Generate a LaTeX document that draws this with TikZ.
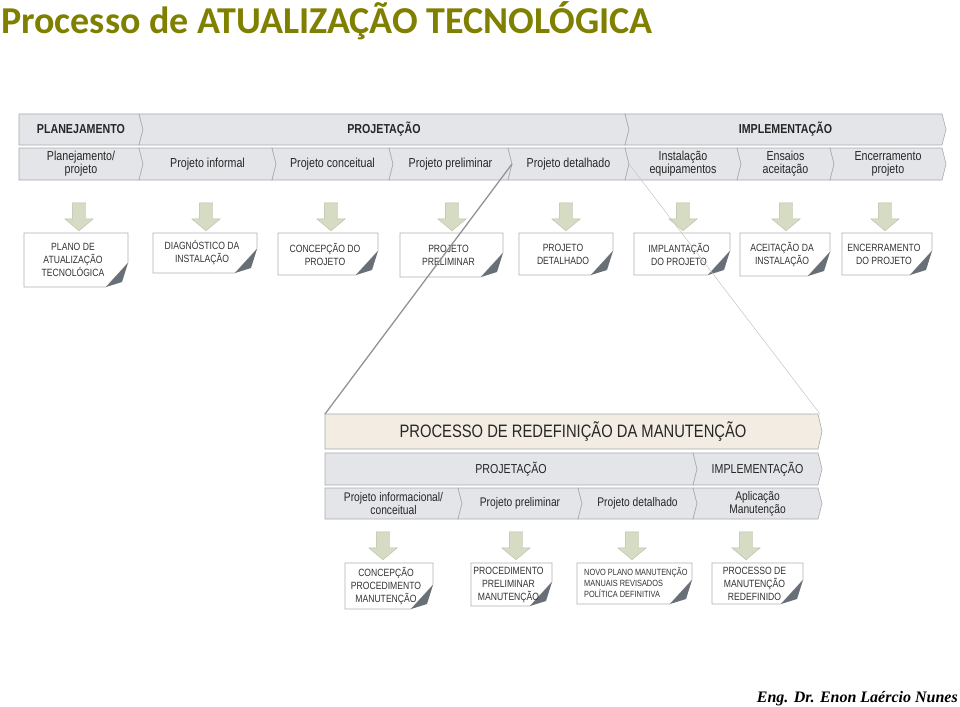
\documentclass[tikz,border=0pt]{standalone}
\usepackage{fontspec}
\setmainfont{Liberation Sans}
\newfontfamily\narrow[FakeStretch=0.82]{Liberation Sans}
\newfontfamily\titlefont{Carlito}
\newfontfamily\signfont{Liberation Serif}
\usetikzlibrary{shapes.arrows}

\definecolor{olivetitle}{RGB}{128,128,0}
\definecolor{chevfill}{RGB}{227,229,233}
\definecolor{chevline}{RGB}{168,170,174}
\definecolor{arrowfill}{RGB}{214,219,196}
\definecolor{arrowline}{RGB}{186,192,166}
\definecolor{boxline}{RGB}{176,176,176}
\definecolor{foldfill}{RGB}{104,111,119}
\definecolor{bannerfill}{RGB}{242,236,226}

\tikzset{
	chev/.style = {draw=chevline, fill=chevfill, line width=0.6pt},
	chevtext/.style = {font=\narrow\fontsize{13}{13}\selectfont, align=center, text=black!85, inner sep=0},
	phasetext/.style = {chevtext, font=\narrow\bfseries\fontsize{13}{14}\selectfont},
	bannertext/.style = {chevtext, font=\narrow\fontsize{18}{20}\selectfont},
	note/.style = {draw=boxline, fill=white, line width=0.6pt},
	notetext/.style = {font=\narrow\fontsize{10.5}{13}\selectfont, align=center, text=black!80, inner sep=0},
	downarrow/.style = {
		draw=arrowline, fill=arrowfill, single arrow, rotate=-90,
		minimum height=28pt, inner xsep=0pt, inner ysep=6.5pt,
		single arrow head extend=7.5pt, single arrow tip angle=100,
	},
}

\begin{document}
\begin{tikzpicture}[x=1pt, y=1pt]
	\useasboundingbox (0,0) rectangle (960,-706);
	\fill[white] (0,0) rectangle (960,-706);
	\def\notch{4}
	\node[anchor=base west, inner sep=0, text=olivetitle,
		font=\titlefont\bfseries\fontsize{38}{40}\selectfont] (title) at (1,-34) {Processo de ATUALIZAÇÃO TECNOLÓGICA};
	\foreach \name/\xa/\xb/\nl/\txt in {plan/19/139/0/PLANEJAMENTO, proj/139/625/4/PROJETAÇÃO, impl/625/942/4/IMPLEMENTAÇÃO}
	{
		\draw[chev] (\xa,-114) -- (\xb,-114) -- (\xb+\notch,-129.5) -- (\xb,-145) -- (\xa,-145) -- (\xa+\nl,-129.5) -- cycle;
		\node[phasetext] (\name) at ({(\xa+\xb+\notch)/2},-129.5) {\txt};
	}
	\foreach \name/\xa/\xb/\nl/\txt in {
		planproj/19/139/0/{Planejamento/\\projeto},
		inf/139/272/4/Projeto informal,
		conc/272/389/4/Projeto conceitual,
		prel/389/508/4/Projeto preliminar,
		det/508/625/4/Projeto detalhado,
		inst/625/737/4/{Instalação\\equipamentos},
		ens/737/830/4/{Ensaios\\aceitação},
		enc/830/942/4/{Encerramento\\projeto}}
	{
		\draw[chev] (\xa,-148) -- (\xb,-148) -- (\xb+\notch,-164) -- (\xb,-180) -- (\xa,-180) -- (\xa+\nl,-164) -- cycle;
		\node[chevtext] (\name) at ({(\xa+\xb+\notch)/2},-164) {\txt};
		\coordinate (\name-tip) at (\xb+\notch,-164);
	}
	\foreach \x in {79,206,331,452,566,683,786,885}
		\node[downarrow] (down\x) at (\x,-214) {};
	\foreach \name/\xa/\xb/\yb/\txt in {
		plano/24/128/-287/{PLANO DE\\ATUALIZAÇÃO\\TECNOLÓGICA},
		diag/153/257/-273/{DIAGNÓSTICO DA\\INSTALAÇÃO},
		concp/278/378/-275/{CONCEPÇÃO DO\\PROJETO},
		projp/400/503/-277/{PROJETO\\PRELIMINAR},
		projd/519/613/-275/{PROJETO\\DETALHADO},
		implp/634/730/-275/{IMPLANTAÇÃO\\DO PROJETO},
		aceit/740/830/-276/{ACEITAÇÃO DA\\INSTALAÇÃO},
		encp/842/932/-275/{ENCERRAMENTO\\DO PROJETO}}
	{
		\draw[note] (\xa,-233) -- (\xb,-233) -- (\xb,\yb+24) -- (\xb-22,\yb) -- (\xa,\yb) -- cycle;
		\fill[foldfill] (\xb-22,\yb) -- (\xb,\yb+24) -- (\xb-6,\yb+5) -- cycle;
		\node[notetext] (\name) at ({(\xa+\xb)/2-3},{(\yb-233)/2}) {\txt};
	}
	\draw[chev, fill=bannerfill] (325,-414) -- (818,-414) -- (822,-431.5) -- (818,-449) -- (325,-449) -- cycle;
	\node[bannertext] (redef) at (573,-431.5) {PROCESSO DE REDEFINIÇÃO DA MANUTENÇÃO};
	\coordinate (redef-nw) at (325,-414);
	\coordinate (redef-ne) at (820,-414);
	\foreach \name/\xa/\xb/\nl/\txt in {mproj/325/693/0/PROJETAÇÃO, mimpl/693/818/4/IMPLEMENTAÇÃO}
	{
		\draw[chev] (\xa,-453) -- (\xb,-453) -- (\xb+\notch,-469) -- (\xb,-485) -- (\xa,-485) -- (\xa+\nl,-469) -- cycle;
		\node[chevtext] (\name) at ({(\xa+\xb+\notch)/2},-469) {\txt};
	}
	\foreach \name/\xa/\xb/\nl/\txt in {
		minf/325/458/0/{Projeto informacional/\\conceitual},
		mprel/458/578/4/Projeto preliminar,
		mdet/578/693/4/Projeto detalhado,
		mapl/693/818/4/{Aplicação\\Manutenção}}
	{
		\draw[chev] (\xa,-488) -- (\xb,-488) -- (\xb+\notch,-503.5) -- (\xb,-519) -- (\xa,-519) -- (\xa+\nl,-503.5) -- cycle;
		\node[chevtext, font=\narrow\fontsize{12.5}{13}\selectfont] (\name) at ({(\xa+\xb+\notch)/2},-503.5) {\txt};
	}
	\foreach \x in {383,516,632,746}
		\node[downarrow] (mdown\x) at (\x,-543) {};
	\foreach \name/\xa/\xb/\yb/\txt in {
		mconc/345/433/-609/{CONCEPÇÃO\\PROCEDIMENTO\\MANUTENÇÃO},
		mproc/471/552/-606/{PROCEDIMENTO\\PRELIMINAR\\MANUTENÇÃO},
		mnovo/577/692/-604/{},
		mrede/712/803/-604/{PROCESSO DE\\MANUTENÇÃO\\REDEFINIDO}}
	{
		\draw[note] (\xa,-563) -- (\xb,-563) -- (\xb,\yb+24) -- (\xb-22,\yb) -- (\xa,\yb) -- cycle;
		\fill[foldfill] (\xb-22,\yb) -- (\xb,\yb+24) -- (\xb-6,\yb+5) -- cycle;
		\node[notetext] (\name) at ({(\xa+\xb)/2-3},{(\yb-563)/2}) {\txt};
	}
	\node[notetext, font=\narrow\fontsize{9}{11}\selectfont, align=left, anchor=west] (mnovotxt) at (584,-583) {NOVO PLANO MANUTENÇÃO\\MANUAIS REVISADOS\\POLÍTICA DEFINITIVA};
	\draw[gray!85, line width=1.3pt] (prel-tip) -- (redef-nw);
	\draw[gray!45, line width=0.5pt] (det-tip) -- (redef-ne);
	\node[anchor=base east, inner sep=0,
		font=\signfont\bfseries\itshape\fontsize{16}{18}\selectfont] (author) at (958,-702) {Eng. Dr. Enon Laércio Nunes};
\end{tikzpicture}
\end{document}
